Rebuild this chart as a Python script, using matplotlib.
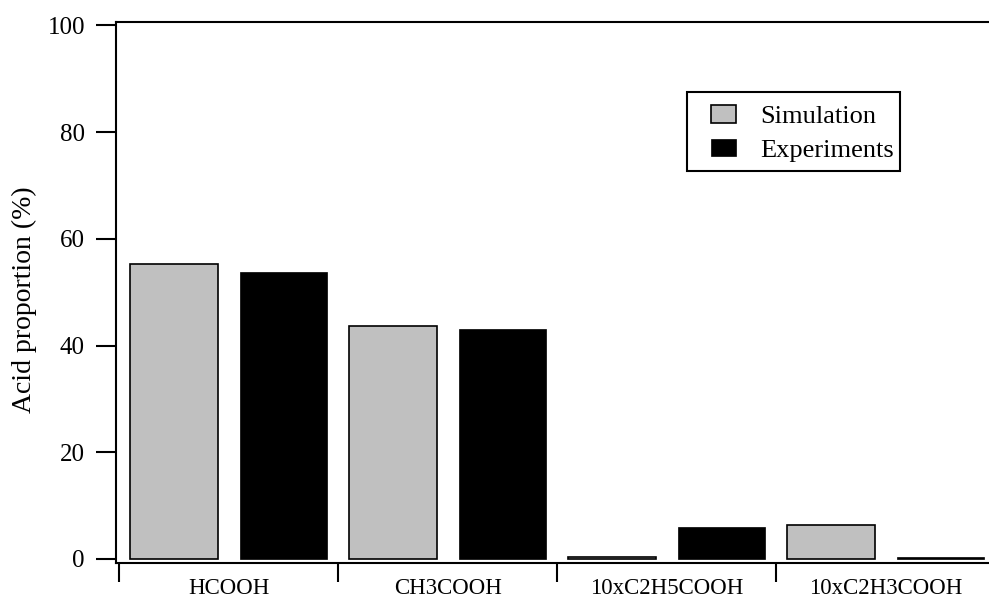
import numpy as np
import matplotlib.pyplot as plt
from matplotlib.patches import Rectangle

categories = ['HCOOH', 'CH3COOH', '10xC2H5COOH', '10xC2H3COOH']
simulation = [55.3, 43.7, 0.35, 6.3]
experiments = [53.7, 43.1, 6.0, 0.35]

plt.rcParams['font.family'] = ['Liberation Serif', 'DejaVu Serif']

fig = plt.figure(figsize=(9.89, 6.03), dpi=100)
ax = fig.add_axes([116 / 989, 40 / 603, 873 / 989, 541 / 603])

x = np.arange(len(categories))
w = 0.4
ax.bar(x - 0.25, simulation, w, color='#c0c0c0', edgecolor='black', linewidth=1.2,
       label='Simulation')
ax.bar(x + 0.25, experiments, w, color='black', edgecolor='black', linewidth=0.5,
       label='Experiments')

ax.set_xlim(-0.514, 3.472)
ax.set_ylim(-0.75, 100.65)

# y axis
ax.set_yticks(np.arange(0, 101, 20))
ax.tick_params(axis='y', direction='out', length=14.4, width=1.5, pad=8, labelsize=18)
ax.set_ylabel('Acid proportion (%)', fontsize=20)
ax.yaxis.set_label_coords(-0.09, 0.486)

# x axis: labels at centres, separator ticks between categories
ax.set_xticks(x)
ax.set_xticklabels(categories)
ax.tick_params(axis='x', which='major', length=0, pad=11, labelsize=16.5)
ax.set_xticks(np.arange(-0.5, 3.0, 1.0), minor=True)
ax.tick_params(axis='x', which='minor', direction='out', length=13.7, width=1.5)

for s in ['left', 'bottom', 'top']:
    ax.spines[s].set_linewidth(1.5)
ax.spines['right'].set_visible(False)

# legend without its own frame, box drawn separately
ax.legend(loc='upper left', bbox_to_anchor=(711 / 989, 1 - 105 / 603),
          bbox_transform=fig.transFigure, borderaxespad=0, borderpad=0,
          fontsize=19, frameon=False,
          handlelength=0.95, handleheight=0.65, handletextpad=0.92,
          labelspacing=0.4)
fig.patches.append(Rectangle((687 / 989, 1 - 171 / 603), 213 / 989, 79 / 603,
                             transform=fig.transFigure, fill=False,
                             edgecolor='black', linewidth=1.5))

fig.savefig('out.png', dpi=100)
